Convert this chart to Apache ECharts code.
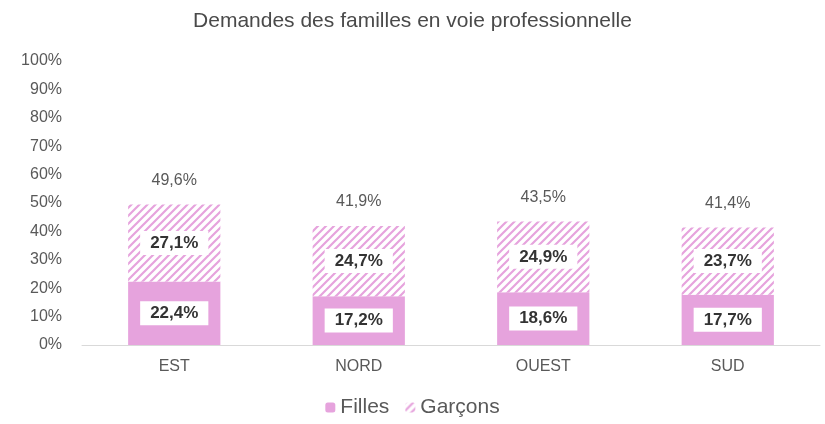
<!DOCTYPE html>
<html>
<head>
<meta charset="utf-8">
<script src="https://cdn.jsdelivr.net/npm/echarts@6/dist/echarts.min.js"></script>
<style>
  html, body { margin: 0; padding: 0; background: #fff; }
  #chart { width: 825px; height: 424px; }
</style>
</head>
<body>
<div id="chart"></div>
<script>
const regions = ['EST', 'NORD', 'OUEST', 'SUD'];
const filles = [22.4, 17.2, 18.6, 17.7];
const garcons = [27.1, 24.7, 24.9, 23.7];
const totals = [49.6, 41.9, 43.5, 41.4];

const pink = '#E6A3DD';
const textColor = '#595959';
const font = 'Liberation Sans';

// hatched fill for the boys' part
function stripes() {
  const c = document.createElement('canvas');
  c.width = 8;
  c.height = 8;
  const ctx = c.getContext('2d');
  ctx.fillStyle = '#fff';
  ctx.fillRect(0, 0, 8, 8);
  ctx.strokeStyle = pink;
  ctx.lineWidth = 2.2;
  ctx.beginPath();
  ctx.moveTo(0, 8); ctx.lineTo(8, 0);
  ctx.moveTo(-4, 4); ctx.lineTo(4, -4);
  ctx.moveTo(4, 12); ctx.lineTo(12, 4);
  ctx.stroke();
  return c;
}

const pct = v => v.toFixed(1).replace('.', ',') + '%';

const innerLabel = {
  show: true,
  position: 'inside',
  formatter: p => pct(p.value),
  color: '#333333',
  fontWeight: 'bold',
  fontSize: 17,
  fontFamily: font,
  backgroundColor: '#fff',
  padding: [4, 10, 3, 10]
};

const chart = echarts.init(document.getElementById('chart'));
chart.setOption({
  animation: false,
  title: {
    text: 'Demandes des familles en voie professionnelle',
    left: 'center',
    top: 6,
    textStyle: { color: '#4a4a4a', fontSize: 21, fontWeight: 'normal', fontFamily: font }
  },
  grid: { left: 82, right: 5, top: 61, bottom: 79 },
  xAxis: {
    type: 'category',
    data: regions,
    axisLine: { lineStyle: { color: '#d9d9d9' } },
    axisTick: { show: false },
    axisLabel: { color: textColor, fontSize: 16, fontFamily: font, margin: 14 }
  },
  yAxis: {
    type: 'value',
    min: 0,
    max: 100,
    interval: 10,
    axisLine: { show: false },
    axisTick: { show: false },
    splitLine: { show: false },
    axisLabel: { color: textColor, fontSize: 16, fontFamily: font, formatter: '{value}%', margin: 20 }
  },
  legend: {
    bottom: 1,
    left: 'center',
    itemWidth: 10,
    itemHeight: 10,
    itemGap: 16,
    textStyle: { color: textColor, fontSize: 21, fontFamily: font },
    data: ['Filles', 'Garçons']
  },
  series: [
    {
      name: 'Filles',
      type: 'bar',
      stack: 'total',
      barWidth: '50%',
      data: filles,
      itemStyle: { color: pink },
      label: innerLabel
    },
    {
      name: 'Garçons',
      type: 'bar',
      stack: 'total',
      data: garcons,
      itemStyle: { color: { image: stripes(), repeat: 'repeat' } },
      label: innerLabel
    },
    {
      name: 'Total',
      type: 'bar',
      stack: 'total',
      data: totals.map(() => 0),
      itemStyle: { color: 'transparent' },
      label: {
        show: true,
        position: 'top',
        distance: 16,
        formatter: p => pct(totals[p.dataIndex]),
        color: textColor,
        fontSize: 16,
        fontFamily: font
      }
    }
  ]
});
</script>
</body>
</html>
